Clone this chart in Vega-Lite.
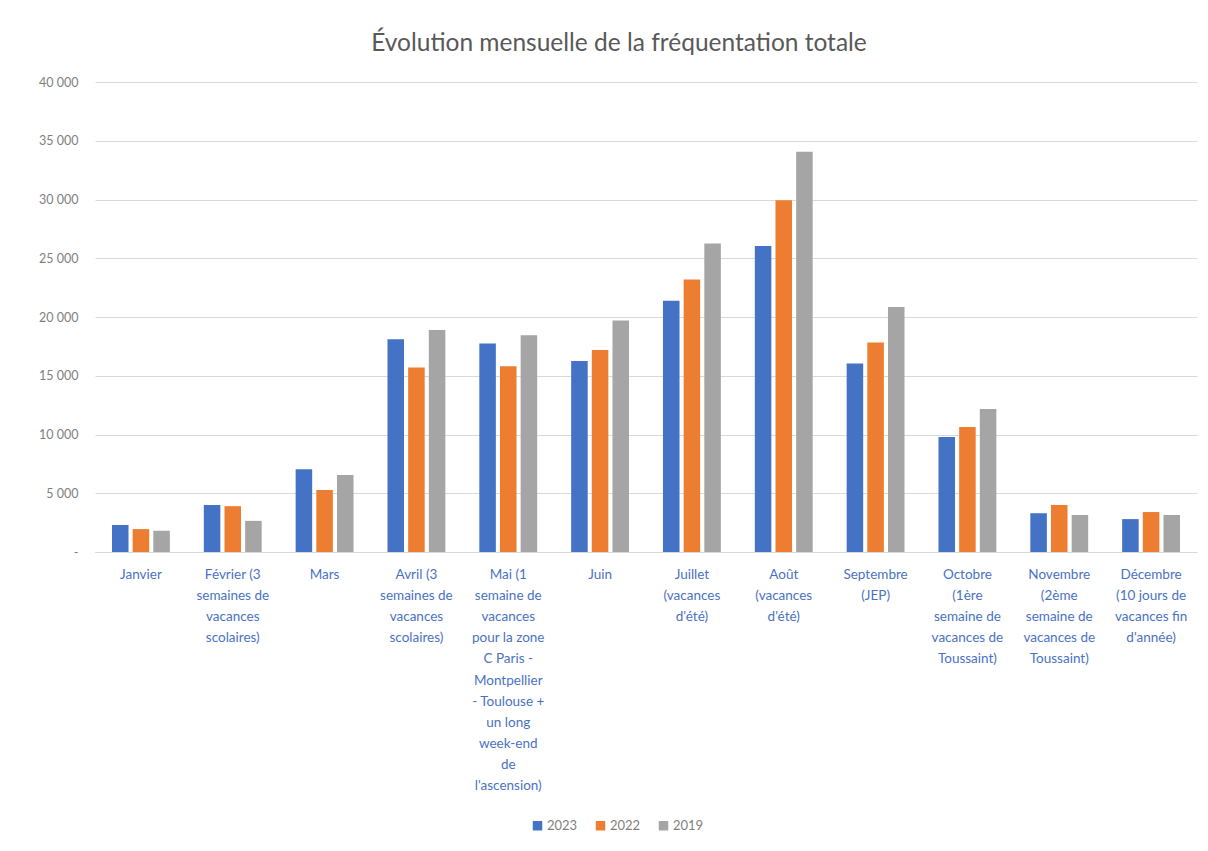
{
  "$schema": "https://vega.github.io/schema/vega-lite/v6.json",
  "autosize": "none",
  "width": 1102,
  "height": 470,
  "padding": {"left": 95, "top": 82, "right": 11, "bottom": 299},
  "background": "white",
  "config": {
    "locale": {"number": {"decimal": ",", "thousands": "\u00a0", "grouping": [3], "currency": ["", "\u00a0€"]}},
    "font": "Lato",
    "view": {"stroke": null}
  },
  "title": {
    "text": "Évolution mensuelle de la fréquentation totale",
    "fontSize": 24.5,
    "font": "Lato",
    "fontWeight": "normal",
    "color": "#595959",
    "anchor": "middle",
    "dx": -27,
    "offset": 20
  },
  "data": {
    "values": [
      {"mois": "Janvier", "annee": "2023", "visites": 2300},
      {"mois": "Janvier", "annee": "2022", "visites": 1950},
      {"mois": "Janvier", "annee": "2019", "visites": 1800},
      {"mois": "Février (3\nsemaines de\nvacances\nscolaires)", "annee": "2023", "visites": 4000},
      {"mois": "Février (3\nsemaines de\nvacances\nscolaires)", "annee": "2022", "visites": 3900},
      {"mois": "Février (3\nsemaines de\nvacances\nscolaires)", "annee": "2019", "visites": 2650},
      {"mois": "Mars", "annee": "2023", "visites": 7050},
      {"mois": "Mars", "annee": "2022", "visites": 5270},
      {"mois": "Mars", "annee": "2019", "visites": 6550},
      {"mois": "Avril (3\nsemaines de\nvacances\nscolaires)", "annee": "2023", "visites": 18100},
      {"mois": "Avril (3\nsemaines de\nvacances\nscolaires)", "annee": "2022", "visites": 15700},
      {"mois": "Avril (3\nsemaines de\nvacances\nscolaires)", "annee": "2019", "visites": 18900},
      {"mois": "Mai (1\nsemaine de\nvacances\npour la zone\nC Paris -\nMontpellier\n- Toulouse +\nun long\nweek-end\nde\nl'ascension)", "annee": "2023", "visites": 17750},
      {"mois": "Mai (1\nsemaine de\nvacances\npour la zone\nC Paris -\nMontpellier\n- Toulouse +\nun long\nweek-end\nde\nl'ascension)", "annee": "2022", "visites": 15800},
      {"mois": "Mai (1\nsemaine de\nvacances\npour la zone\nC Paris -\nMontpellier\n- Toulouse +\nun long\nweek-end\nde\nl'ascension)", "annee": "2019", "visites": 18450},
      {"mois": "Juin", "annee": "2023", "visites": 16250},
      {"mois": "Juin", "annee": "2022", "visites": 17200},
      {"mois": "Juin", "annee": "2019", "visites": 19700},
      {"mois": "Juillet\n(vacances\nd'été)", "annee": "2023", "visites": 21380},
      {"mois": "Juillet\n(vacances\nd'été)", "annee": "2022", "visites": 23200},
      {"mois": "Juillet\n(vacances\nd'été)", "annee": "2019", "visites": 26250},
      {"mois": "Août\n(vacances\nd'été)", "annee": "2023", "visites": 26050},
      {"mois": "Août\n(vacances\nd'été)", "annee": "2022", "visites": 29930},
      {"mois": "Août\n(vacances\nd'été)", "annee": "2019", "visites": 34070},
      {"mois": "Septembre\n(JEP)", "annee": "2023", "visites": 16040},
      {"mois": "Septembre\n(JEP)", "annee": "2022", "visites": 17830},
      {"mois": "Septembre\n(JEP)", "annee": "2019", "visites": 20860},
      {"mois": "Octobre\n(1ère\nsemaine de\nvacances de\nToussaint)", "annee": "2023", "visites": 9780},
      {"mois": "Octobre\n(1ère\nsemaine de\nvacances de\nToussaint)", "annee": "2022", "visites": 10630},
      {"mois": "Octobre\n(1ère\nsemaine de\nvacances de\nToussaint)", "annee": "2019", "visites": 12160},
      {"mois": "Novembre\n(2ème\nsemaine de\nvacances de\nToussaint)", "annee": "2023", "visites": 3300},
      {"mois": "Novembre\n(2ème\nsemaine de\nvacances de\nToussaint)", "annee": "2022", "visites": 4000},
      {"mois": "Novembre\n(2ème\nsemaine de\nvacances de\nToussaint)", "annee": "2019", "visites": 3150},
      {"mois": "Décembre\n(10 jours de\nvacances fin\nd'année)", "annee": "2023", "visites": 2800},
      {"mois": "Décembre\n(10 jours de\nvacances fin\nd'année)", "annee": "2022", "visites": 3400},
      {"mois": "Décembre\n(10 jours de\nvacances fin\nd'année)", "annee": "2019", "visites": 3150}
    ]
  },
  "mark": {"type": "bar"},
  "encoding": {
    "x": {
      "field": "mois",
      "type": "nominal",
      "sort": null,
      "scale": {"paddingInner": 0.37, "paddingOuter": 0.185},
      "axis": {
        "title": null,
        "labelAngle": 0,
        "labelExpr": "split(datum.label, '\\n')",
        "labelColor": "#4a72c4",
        "labelFont": "Lato",
        "labelFontSize": 13.5,
        "labelLineHeight": 21.2,
        "labelPadding": 15,
        "labelBaseline": "top",
        "labelLimit": 200,
        "ticks": false,
        "domain": true,
        "domainColor": "#d9d9d9",
        "grid": false
      }
    },
    "xOffset": {
      "field": "annee",
      "type": "nominal",
      "sort": ["2023", "2022", "2019"],
      "scale": {"paddingInner": 0.2}
    },
    "y": {
      "field": "visites",
      "type": "quantitative",
      "scale": {"domain": [0, 40000]},
      "axis": {
        "title": null,
        "values": [0, 5000, 10000, 15000, 20000, 25000, 30000, 35000, 40000],
        "format": ",d",
        "labelExpr": "datum.value == 0 ? '-\u00a0\u00a0\u00a0\u00a0' : datum.label",
        "labelColor": "#7f7f7f",
        "labelFont": "Lato",
        "labelFontSize": 12.5,
        "labelPadding": 17,
        "ticks": false,
        "domain": false,
        "gridColor": "#d9d9d9",
        "gridWidth": 1
      }
    },
    "color": {
      "field": "annee",
      "type": "nominal",
      "sort": ["2023", "2022", "2019"],
      "scale": {"domain": ["2023", "2022", "2019"], "range": ["#4472c4", "#ed7d31", "#a5a5a5"]},
      "legend": {
        "title": null,
        "orient": "none",
        "direction": "horizontal",
        "legendX": 436,
        "legendY": 737,
        "symbolType": "square",
        "symbolSize": 90,
        "symbolStrokeWidth": 0,
        "labelFont": "Lato",
        "labelFontSize": 13,
        "labelColor": "#7f7f7f",
        "labelOffset": 3,
        "columnPadding": 16
      }
    }
  }
}
